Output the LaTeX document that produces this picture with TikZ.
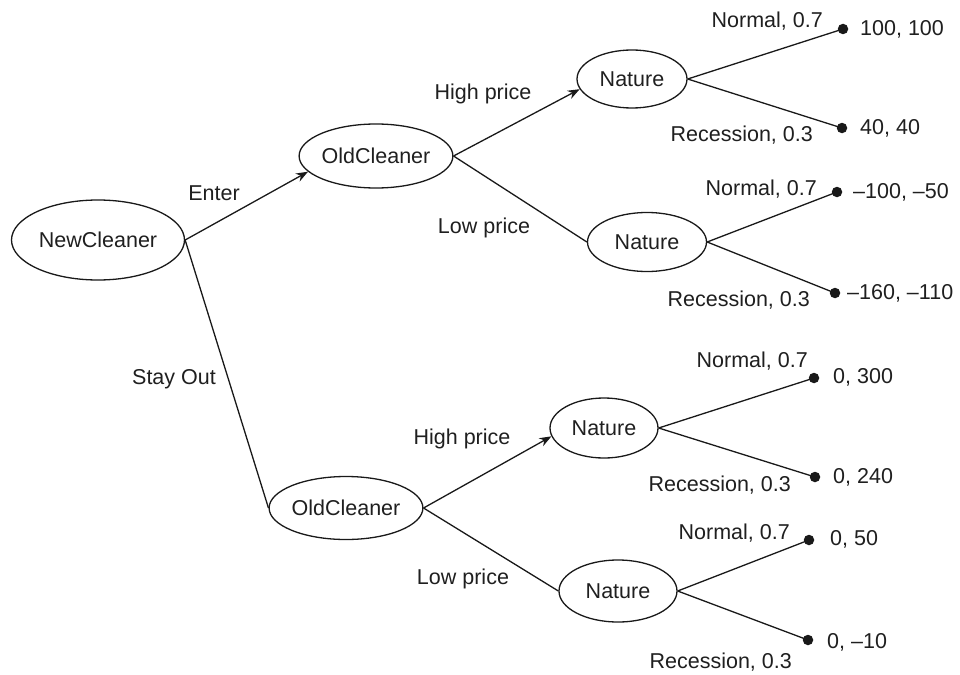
\documentclass[tikz,border=0pt]{standalone}
\usepackage{fontspec}
\setmainfont{Liberation Sans}
\usetikzlibrary{shapes.geometric,arrows.meta}
\tikzset{
  every node/.style={font=\fontsize{21.5}{26}\selectfont, text=black!88},
  decision/.style={ellipse, draw=black!90, line width=1.3pt, inner sep=0pt},
  leaf/.style={circle, fill=black!90, inner sep=0pt, minimum size=10.5pt},
  branch/.style={line width=1.3pt, draw=black!90},
  arr/.style={branch, -{Stealth[length=12pt,width=9pt]}},
  lbl/.style={inner sep=0pt},
}
\begin{document}
\begin{tikzpicture}[x=1pt,y=-1pt]
\useasboundingbox (0,0) rectangle (960,674);
% decision nodes
\node[decision, minimum width=173pt, minimum height=80pt] (nc) at (98,240) {NewCleaner};
\node[decision, minimum width=150pt, minimum height=64pt] (oc1) at (376,156) {OldCleaner};
\node[decision, minimum width=148pt, minimum height=63pt] (oc2) at (346,508) {OldCleaner};
\node[decision, minimum width=110pt, minimum height=58pt] (n1) at (632,79) {Nature};
\node[decision, minimum width=119pt, minimum height=59pt] (n2) at (647,242) {Nature};
\node[decision, minimum width=108pt, minimum height=60pt] (n3) at (604,428) {Nature};
\node[decision, minimum width=118pt, minimum height=62pt] (n4) at (618,591) {Nature};
% leaves
\node[leaf] (l1) at (843,29) {};
\node[leaf] (l2) at (842,128) {};
\node[leaf] (l3) at (837,192) {};
\node[leaf] (l4) at (835,293) {};
\node[leaf] (l5) at (814,378) {};
\node[leaf] (l6) at (815,477) {};
\node[leaf] (l7) at (809,540) {};
\node[leaf] (l8) at (808,640) {};
% connectors
\draw[arr] (nc.east) -- (oc1.193);
\draw[branch] (nc.east) -- (oc2.west);
\draw[arr] (oc1.east) -- (n1.191);
\draw[branch] (oc1.east) -- (n2.west);
\draw[arr] (oc2.east) -- (n3.189);
\draw[branch] (oc2.east) -- (n4.west);
\draw[branch] (n1.east) -- (l1.center);
\draw[branch] (n1.east) -- (l2.center);
\draw[branch] (n2.east) -- (l3.center);
\draw[branch] (n2.east) -- (l4.center);
\draw[branch] (n3.east) -- (l5.center);
\draw[branch] (n3.east) -- (l6.center);
\draw[branch] (n4.east) -- (l7.center);
\draw[branch] (n4.east) -- (l8.center);
% edge labels
\node[lbl] (tEnter) at (214,193) {Enter};
\node[lbl] (tStay) at (174,379) {Stay Out};
\node[lbl] (tH1) at (483,94) {High price};
\node[lbl] (tL1) at (484,228) {Low price};
\node[lbl] (tH2) at (462,439) {High price};
\node[lbl] (tL2) at (463,579) {Low price};
% chance labels
\node[lbl, anchor=east] (p1) at (823,21) {Normal, 0.7};
\node[lbl, anchor=east] (p2) at (813,135) {Recession, 0.3};
\node[lbl, anchor=east] (p3) at (817,189) {Normal, 0.7};
\node[lbl, anchor=east] (p4) at (810,300) {Recession, 0.3};
\node[lbl, anchor=east] (p5) at (808,361) {Normal, 0.7};
\node[lbl, anchor=east] (p6) at (791,485) {Recession, 0.3};
\node[lbl, anchor=east] (p7) at (790,533) {Normal, 0.7};
\node[lbl, anchor=east] (p8) at (792,662) {Recession, 0.3};
% payoffs
\node[lbl, anchor=west] (v1) at (860,29) {100, 100};
\node[lbl, anchor=west] (v2) at (860,128) {40, 40};
\node[lbl, anchor=west] (v3) at (853,192) {–100, –50};
\node[lbl, anchor=west] (v4) at (847,293) {–160, –110};
\node[lbl, anchor=west] (v5) at (833,377) {0, 300};
\node[lbl, anchor=west] (v6) at (833,477) {0, 240};
\node[lbl, anchor=west] (v7) at (830,539) {0, 50};
\node[lbl, anchor=west] (v8) at (827,642) {0, –10};
\end{tikzpicture}
\end{document}
